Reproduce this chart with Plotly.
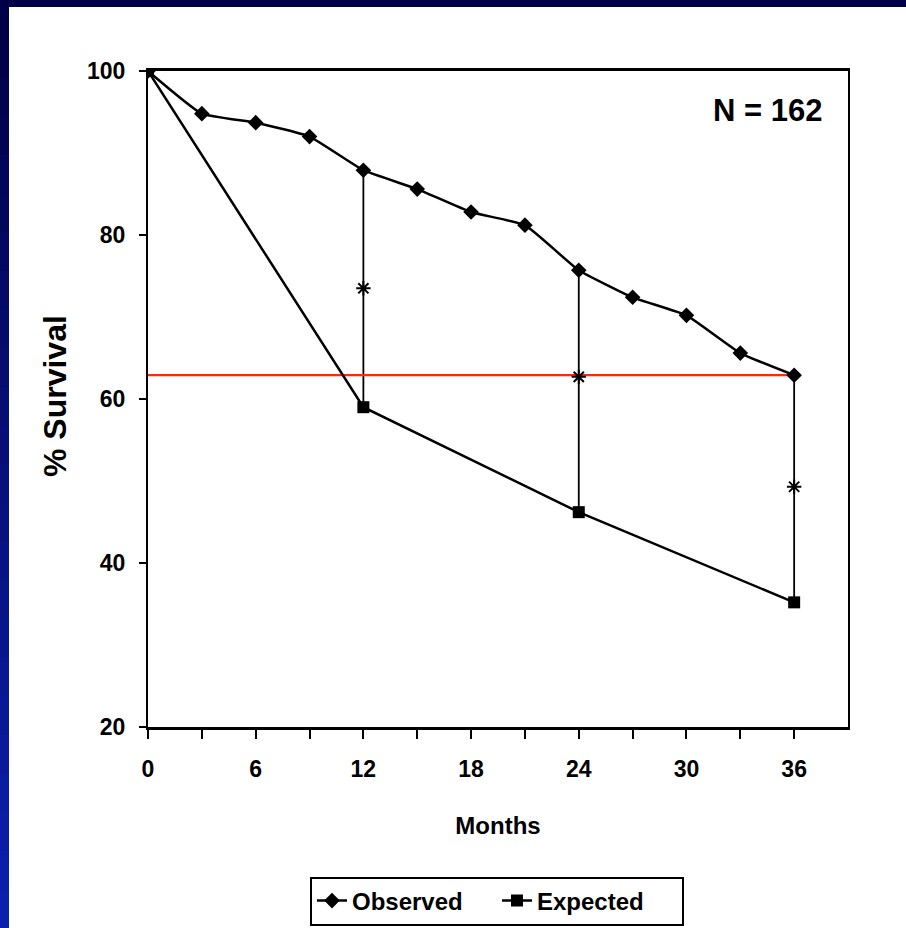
import plotly.graph_objects as go

months = [0, 3, 6, 9, 12, 15, 18, 21, 24, 27, 30, 33, 36]
observed = [100, 94.8, 93.7, 92.0, 87.9, 85.6, 82.8, 81.2, 75.7, 72.4, 70.2, 65.6, 62.9]
exp_months = [0, 12, 24, 36]
expected = [100, 59.0, 46.2, 35.2]
star_months = [12, 24, 36]
star_values = [73.5, 62.7, 49.3]
x_tickvals = [0, 3, 6, 9, 12, 15, 18, 21, 24, 27, 30, 33, 36]
x_ticktext = ["0", "", "6", "", "12", "", "18", "", "24", "", "30", "", "36"]
y_tickvals = [20, 40, 60, 80, 100]
n_label = "N = 162"

ARIAL = "Liberation Sans, Arial, Helvetica, sans-serif"

fig = go.Figure()

# vertical connectors between observed and expected
obs_map = dict(zip(months, observed))
exp_map = dict(zip(exp_months, expected))
vx, vy = [], []
for m in star_months:
    vx += [m, m, None]
    vy += [obs_map[m], exp_map[m], None]
fig.add_trace(go.Scatter(x=vx, y=vy, mode="lines", line=dict(color="black", width=1.8),
                         showlegend=False, hoverinfo="skip"))

# red reference line at final observed value
fig.add_trace(go.Scatter(x=[months[0], months[-1]], y=[observed[-1], observed[-1]], mode="lines",
                         line=dict(color="#ff2a00", width=2.2), showlegend=False, hoverinfo="skip"))

fig.add_trace(go.Scatter(x=months, y=observed, mode="lines+markers", name="Observed",
                         line=dict(color="black", width=2.5, shape="spline", smoothing=0.4),
                         marker=dict(symbol="diamond", size=12, color="black")))
fig.add_trace(go.Scatter(x=exp_months, y=expected, mode="lines+markers", name="Expected",
                         line=dict(color="black", width=2.5),
                         marker=dict(symbol="square", size=12, color="black")))
fig.add_trace(go.Scatter(x=star_months, y=star_values, mode="markers", showlegend=False,
                         marker=dict(symbol="asterisk-open", size=12, color="black",
                                     line=dict(color="black", width=2))))

# background: blue frame strips with vertical gradient
shapes = []
W, H = 906, 928
L, R, T, B = 148, 848, 71, 727
def px2x(px):
    return (px - L) / (R - L)
def py2y(py):
    return (B - py) / (B - T)
n = 24
c0 = (0, 0, 70)
c1 = (12, 32, 172)
for i in range(n):
    f = i / (n - 1)
    col = "rgb(%d,%d,%d)" % tuple(round(c0[k] + (c1[k] - c0[k]) * f) for k in range(3))
    y0p = H * i / n
    y1p = H * (i + 1) / n + 1
    shapes.append(dict(type="rect", xref="paper", yref="paper", x0=px2x(0), x1=px2x(9),
                       y0=py2y(y1p), y1=py2y(y0p), fillcolor=col, line=dict(width=0), layer="below"))
shapes.append(dict(type="rect", xref="paper", yref="paper", x0=px2x(0), x1=px2x(W),
                   y0=py2y(7), y1=py2y(0), fillcolor="rgb(0,0,72)", line=dict(width=0), layer="below"))

fig.update_layout(
    width=906, height=928,
    margin=dict(l=L, r=W - R, t=T, b=H - B, autoexpand=False),
    paper_bgcolor="white", plot_bgcolor="white",
    shapes=shapes,
    showlegend=True,
    legend=dict(orientation="h", x=px2x(497), y=py2y(901), xanchor="center", yanchor="middle",
                bordercolor="black", borderwidth=2, bgcolor="white",
                font=dict(family=ARIAL, size=24, color="black", weight="bold"),
                itemwidth=30, tracegroupgap=0, entrywidth=140, entrywidthmode="pixels"),
    annotations=[
        dict(text="<b>" + n_label + "</b>", xref="paper", yref="paper",
             x=px2x(767), y=py2y(110), xanchor="center", yanchor="middle", showarrow=False,
             font=dict(family=ARIAL, size=31, color="black")),
        dict(text="<b>% Survival</b>", xref="paper", yref="paper", textangle=-90,
             x=px2x(55), y=py2y(396), xanchor="center", yanchor="middle", showarrow=False,
             font=dict(family=ARIAL, size=32, color="black")),
    ],
)

fig.update_xaxes(range=[0, 39], tickvals=x_tickvals, ticktext=x_ticktext,
                 showline=True, linecolor="black", linewidth=2.5, mirror=True,
                 ticks="outside", ticklen=9, tickwidth=2, tickcolor="black",
                 showgrid=False, zeroline=False, ticklabelstandoff=11,
                 tickfont=dict(family=ARIAL, size=23, color="black", weight="bold"),
                 title=dict(text="Months", standoff=36,
                            font=dict(family=ARIAL, size=24, color="black", weight="bold")))
fig.update_yaxes(range=[20, 100], tickvals=y_tickvals,
                 showline=True, linecolor="black", linewidth=2, mirror=True,
                 ticks="outside", ticklen=7, tickwidth=2, tickcolor="black",
                 showgrid=False, zeroline=False, ticklabelstandoff=9,
                 tickfont=dict(family=ARIAL, size=23, color="black", weight="bold"))

fig.write_html("out.html", config={"displayModeBar": False},
               post_script="document.body.style.margin='0';document.body.style.overflow='hidden';")
